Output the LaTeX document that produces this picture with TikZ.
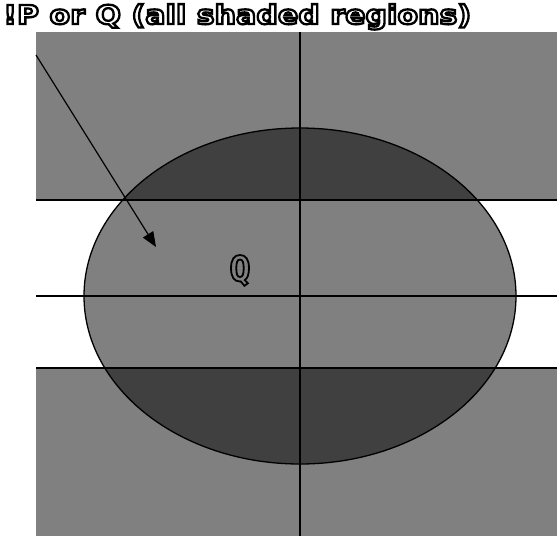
\documentclass[tikz,border=0pt]{standalone}
\usepackage{fontspec}
\usetikzlibrary{arrows.meta}
\newfontfamily\titlefont{DejaVu Sans}[FakeStretch=1.15]
\newfontfamily\qfont{DejaVu Sans Mono}
\newcommand{\outlinetext}[2]{\special{pdf:literal direct 1 Tr #1 w 0 G}#2\special{pdf:literal direct 0 Tr}}
\definecolor{midgray}{RGB}{128,128,128}
\definecolor{darkgray}{RGB}{64,64,64}
\tikzset{
  rule/.style={line width=1.4pt, black},
  outlined/.style={inner sep=0pt},
}
\begin{document}
\begin{tikzpicture}[x=1pt,y=-1pt]
\useasboundingbox (0,0) rectangle (557,536);
% gray regions
\fill[midgray] (36,32) rectangle (557,200);
\fill[midgray] (36,368) rectangle (557,536);
\fill[midgray] (300,296) ellipse [x radius=216, y radius=168];
\begin{scope}
  \clip (300,296) ellipse [x radius=216, y radius=168];
  \fill[darkgray] (36,32) rectangle (557,200);
  \fill[darkgray] (36,368) rectangle (557,536);
\end{scope}
\draw[line width=1.3pt] (300,296) ellipse [x radius=216, y radius=168];
% lines
\coordinate (h1l) at (36,200); \coordinate (h1r) at (557,200);
\coordinate (h2l) at (36,296); \coordinate (h2r) at (557,296);
\coordinate (h3l) at (36,368); \coordinate (h3r) at (557,368);
\coordinate (vt) at (300,32); \coordinate (vb) at (300,536);
\draw[rule] (h1l) -- (h1r);
\draw[rule] (h2l) -- (h2r);
\draw[rule] (h3l) -- (h3r);
\draw[rule] (vt) -- (vb);
% arrow
\coordinate (as) at (36,55); \coordinate (ae) at (156,247);
\draw[line width=1.2pt, -{Triangle[length=15pt,width=12pt]}] (as) -- (ae);
% texts
\node[outlined, anchor=base west, text=black] (title) at (3,24) {\resizebox{468pt}{!}{\titlefont\bfseries\fontsize{17}{17}\selectfont\outlinetext{1.5}{!P or Q (all shaded regions)}}};
\node[outlined, anchor=base, text=black] (q) at (240,281) {\qfont\bfseries\fontsize{35}{35}\selectfont\outlinetext{1.8}{Q}};
\end{tikzpicture}
\end{document}
